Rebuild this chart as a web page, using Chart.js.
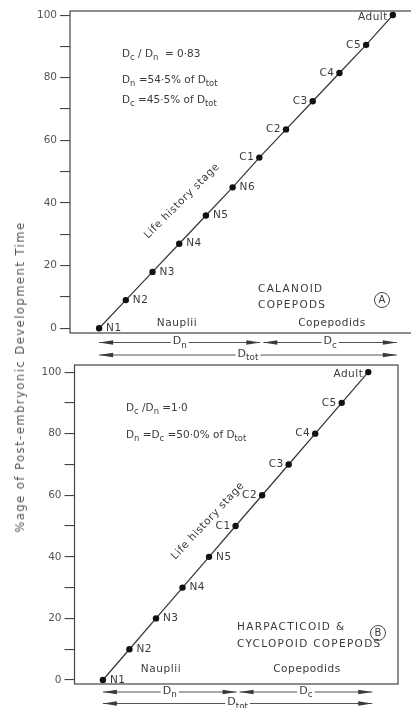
<!DOCTYPE html>
<html>
<head>
<meta charset="utf-8">
<script src="https://cdn.jsdelivr.net/npm/chart.js@4.4.1/dist/chart.umd.min.js"></script>
<style>
  html, body { margin: 0; padding: 0; background: #fff; overflow: hidden; width: 411px; height: 708px; position: relative; }
  canvas { position: absolute; left: 0; }
  #chartA { top: 0; }
  #chartB { top: 350px; }
  #ytitle {
    position: absolute; left: 20px; top: 377px;
    transform: translate(-50%, -50%) rotate(-90deg);
    white-space: nowrap; font: 11.5px "DejaVu Sans"; letter-spacing: 1.5px; color: #555;
  }
</style>
</head>
<body>
<canvas id="chartA" width="420" height="362"></canvas>
<canvas id="chartB" width="411" height="358"></canvas>
<div id="ytitle">%age of Post-embryonic Development Time</div>
<script>
// panel A - calanoid copepods
const stagesA = ["N1", "N2", "N3", "N4", "N5", "N6", "C1", "C2", "C3", "C4", "C5", "Adult"];
const pctA = [0, 9, 18, 27, 36, 45, 54.5, 63.5, 72.5, 81.5, 90.5, 100];
const notesA = ["D_{c} / D_{n}  = 0·83", "D_{n} =54·5% of D_{tot}", "D_{c} =45·5% of D_{tot}"];
const groupA = ["CALANOID", "COPEPODS"];

// panel B - harpacticoid & cyclopoid copepods
const stagesB = ["N1", "N2", "N3", "N4", "N5", "C1", "C2", "C3", "C4", "C5", "Adult"];
const pctB = [0, 10, 20, 30, 40, 50, 60, 70, 80, 90, 100];
const notesB = ["D_{c} /D_{n} =1·0", "D_{n} =D_{c} =50·0% of D_{tot}"];
const groupB = ["HARPACTICOID &", "CYCLOPOID COPEPODS"];

const yTicks = [0, 10, 20, 30, 40, 50, 60, 70, 80, 90, 100];
const yLabels = [0, 20, 40, 60, 80, 100];
const FONT = '"DejaVu Sans"';
const INK = "#3a3a3a";

function drawRich(ctx, str, x, y, size, align) {
  const parts = [];
  str.split(/(_\{[^}]*\})/).forEach(p => {
    if (!p) return;
    if (p.startsWith("_{")) parts.push({ t: p.slice(2, -1), sub: true });
    else parts.push({ t: p, sub: false });
  });
  ctx.letterSpacing = "0px";
  let w = 0;
  parts.forEach(p => {
    ctx.font = (p.sub ? size * 0.8 : size) + "px " + FONT;
    p.w = ctx.measureText(p.t).width;
    w += p.w;
  });
  let cx = align === "center" ? x - w / 2 : (align === "right" ? x - w : x);
  ctx.textAlign = "left";
  ctx.textBaseline = "middle";
  parts.forEach(p => {
    ctx.font = (p.sub ? size * 0.8 : size) + "px " + FONT;
    ctx.fillText(p.t, cx, p.sub ? y + size * 0.35 : y);
    cx += p.w;
  });
  return w;
}

function head(ctx, x, y, dir) {
  ctx.beginPath();
  ctx.moveTo(x, y);
  ctx.lineTo(x - dir * 14, y - 2.3);
  ctx.lineTo(x - dir * 14, y + 2.3);
  ctx.closePath();
  ctx.fill();
}

function arrow(ctx, x1, x2, y, label) {
  const mid = (x1 + x2) / 2;
  const w = drawRich(ctx, label, mid, y - 1, 11, "center");
  ctx.lineWidth = 1;
  ctx.beginPath();
  ctx.moveTo(x1, y); ctx.lineTo(mid - w / 2 - 2, y);
  ctx.moveTo(mid + w / 2 + 2, y); ctx.lineTo(x2, y);
  ctx.stroke();
  head(ctx, x1, y, -1);
  head(ctx, x2, y, 1);
}

const notesPlugin = {
  id: "notes",
  afterDraw(chart, args, o) {
    const ctx = chart.ctx;
    const a = chart.chartArea;
    const xs = chart.scales.x;
    ctx.save();
    ctx.strokeStyle = "#444";
    ctx.fillStyle = INK;
    ctx.lineWidth = 1.2;
    ctx.strokeRect(a.left, a.top, a.right - a.left, a.bottom - a.top);

    // stage labels next to points
    const meta = chart.getDatasetMeta(0);
    ctx.font = "10.5px " + FONT;
    ctx.textBaseline = "middle";
    ctx.letterSpacing = "0.5px";
    meta.data.forEach((pt, i) => {
      const s = o.stages[i];
      const right = s[0] === "N";
      ctx.textAlign = right ? "left" : "right";
      ctx.fillText(s, pt.x + (right ? 7 : -5), pt.y + (s === "Adult" ? 2 : 0));
    });

    // ratio notes
    o.notes.forEach((s, i) => drawRich(ctx, s, a.left + o.notesX, a.top + o.notesY[i], 10.5, "left"));

    // life history stage
    ctx.save();
    ctx.translate(a.left + o.life[0], a.top + o.life[1]);
    ctx.rotate(o.life[2] * Math.PI / 180);
    ctx.font = "10.5px " + FONT;
    ctx.letterSpacing = "0.6px";
    ctx.textAlign = "center";
    ctx.fillText("Life history stage", 0, 0);
    ctx.restore();

    // group name and panel letter
    ctx.font = "10.5px " + FONT;
    ctx.letterSpacing = "1.3px";
    ctx.textAlign = "left";
    o.group.forEach((s, i) => ctx.fillText(s, a.left + o.groupX, a.top + o.groupY[i]));
    ctx.letterSpacing = "0px";
    ctx.lineWidth = 1;
    ctx.beginPath();
    ctx.arc(a.left + o.circle[0], a.top + o.circle[1], 7.5, 0, Math.PI * 2);
    ctx.stroke();
    ctx.textAlign = "center";
    ctx.font = "10px " + FONT;
    ctx.fillText(o.letter, a.left + o.circle[0], a.top + o.circle[1] + 0.5);

    ctx.font = "10.5px " + FONT;
    ctx.letterSpacing = "0.6px";
    ctx.fillText("Nauplii", a.left + o.nauplii[0], a.top + o.nauplii[1]);
    ctx.fillText("Copepodids", a.left + o.copepodids[0], a.top + o.copepodids[1]);

    // duration arrows under the panel
    const xN1 = xs.getPixelForValue(0);
    const xC1 = xs.getPixelForValue(o.stages.indexOf("C1"));
    const xAd = xs.getPixelForValue(o.stages.length - 1) + 4;
    ctx.strokeStyle = "#555";
    arrow(ctx, xN1, xC1 + 1, a.bottom + o.arrowY[0], "D_{n}");
    arrow(ctx, xC1 + 4, xAd, a.bottom + o.arrowY[0], "D_{c}");
    arrow(ctx, xN1, xAd, a.bottom + o.arrowY[1], "D_{tot}");
    ctx.restore();
  }
};

function makeChart(id, stages, pct, xRange, yRange, pad, notes) {
  return new Chart(document.getElementById(id), {
    type: "line",
    data: {
      datasets: [{
        data: pct.map((v, i) => ({ x: i, y: v })),
        borderColor: INK,
        borderWidth: 1.3,
        pointRadius: 3.2,
        pointBackgroundColor: "#111",
        pointBorderWidth: 0,
        tension: 0
      }]
    },
    options: {
      responsive: false,
      animation: false,
      events: [],
      layout: { padding: pad },
      plugins: { legend: { display: false }, tooltip: { enabled: false }, notes: notes },
      scales: {
        x: { type: "linear", display: false, min: xRange[0], max: xRange[1] },
        y: {
          min: yRange[0], max: yRange[1],
          afterFit: s => { s.width = 40; },
          afterBuildTicks: s => { s.ticks = yTicks.map(v => ({ value: v })); },
          border: { display: false },
          grid: { drawOnChartArea: false, tickLength: 10, color: "#444", lineWidth: 1.1 },
          ticks: {
            padding: 3, color: "#555", autoSkip: false,
            font: { family: "DejaVu Sans", size: 10.5 },
            callback: v => yLabels.includes(v) ? String(v) : ""
          }
        }
      }
    },
    plugins: [notesPlugin]
  });
}

makeChart("chartA", stagesA, pctA, [-1.09, 11.83], [-1.5, 101.3],
  { left: 30, right: 5, top: 11, bottom: 29 },
  {
    stages: stagesA, notes: notesA, notesX: 52, notesY: [43, 69, 89],
    life: [112, 190, -45], group: groupA, groupX: 188, groupY: [278, 294],
    circle: [312, 289], letter: "A", nauplii: [107, 312], copepodids: [262, 312],
    arrowY: [9.5, 22]
  });

makeChart("chartB", stagesB, pctB, [-1.07, 11.12], [-1.3, 102.3],
  { left: 34.5, right: 13, top: 15, bottom: 24 },
  {
    stages: stagesB, notes: notesB, notesX: 51.5, notesY: [43, 70],
    life: [133.5, 156, -47], group: groupB, groupX: 162.5, groupY: [262, 279],
    circle: [303.5, 268], letter: "B", nauplii: [86.5, 304], copepodids: [232.5, 304],
    arrowY: [8, 19.5]
  });
</script>
</body>
</html>
